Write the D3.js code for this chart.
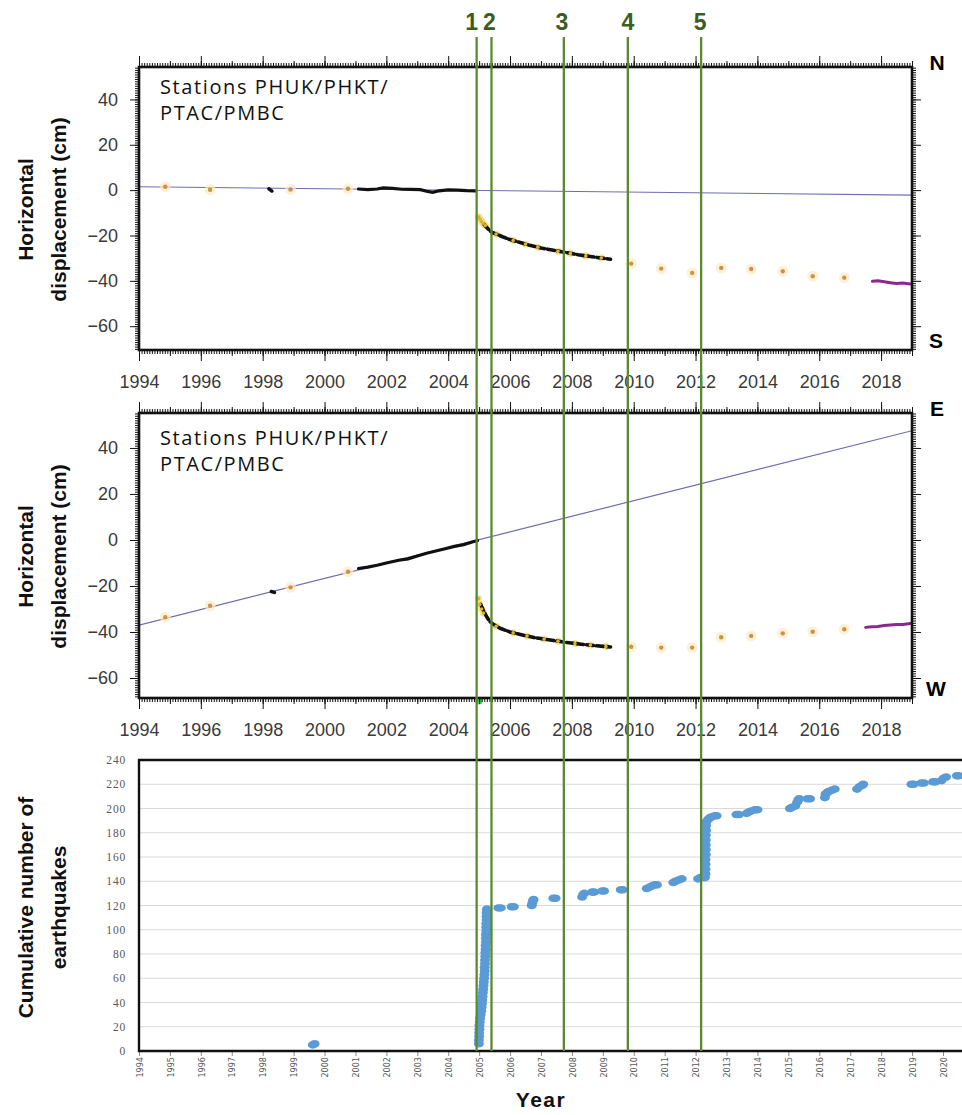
<!DOCTYPE html>
<html>
<head>
<meta charset="utf-8">
<script src="https://cdn.jsdelivr.net/npm/d3@7"></script>
<style>
  html, body { margin: 0; padding: 0; background: #fff; }
  svg { display: block; }
</style>
</head>
<body>
<svg id="chart" width="962" height="1115"></svg>
<script>
// ---------------- DATA ----------------
const stationLabel = ["Stations PHUK/PHKT/", "PTAC/PMBC"];
const topTickYears = [1994, 1996, 1998, 2000, 2002, 2004, 2006, 2008, 2010, 2012, 2014, 2016, 2018];
const dispTicks = [40, 20, 0, -20, -40, -60];
const eventYears = [2004.92, 2005.40, 2007.74, 2009.81, 2012.18];
const eventLabels = ["1", "2", "3", "4", "5"];

// North-South component (cm)
const nsTrend = [[1994, 1.5], [2019, -2.2]];
const nsBlack = [[2001.1, 0.5], [2001.4, 0.2], [2001.7, 0.5], [2001.9, 1.0], [2002.2, 0.8], [2002.5, 0.4],
  [2002.8, 0.3], [2003.1, 0.2], [2003.3, -0.5], [2003.5, -1.0], [2003.7, -0.3], [2004.0, 0.1],
  [2004.3, 0.0], [2004.6, -0.2], [2004.9, -0.3]];
const nsBlackIsolated = [[1998.2, 0.6], [1998.3, -0.4]];
const nsPost = [[2005.15, -15.0], [2005.25, -16.5], [2005.35, -18.0], [2005.45, -18.8], [2005.6, -19.6],
  [2005.8, -20.8], [2006.0, -21.8], [2006.3, -23.0], [2006.6, -24.2], [2007.0, -25.5], [2007.4, -26.5],
  [2007.8, -27.5], [2008.2, -28.5], [2008.6, -29.3], [2009.0, -30.0], [2009.25, -30.5]];
const nsYellow = [[2004.98, -11.8], [2005.03, -12.8], [2005.08, -13.8], [2005.13, -14.6], [2005.2, -15.6],
  [2005.55, -19.4], [2006.1, -22.2], [2006.5, -23.8], [2006.9, -25.2], [2007.55, -27.0], [2007.95, -27.9],
  [2008.45, -29.0], [2008.95, -29.9]];
const nsOrange = [[1994.85, 1.5], [1996.3, 0.2], [1998.9, 0.3], [2000.76, 0.6], [2009.92, -32.4],
  [2010.89, -34.6], [2011.89, -36.5], [2012.83, -34.3], [2013.8, -34.8], [2014.82, -35.8],
  [2015.79, -38.0], [2016.81, -38.6]];
const nsMagenta = [[2017.72, -40.2], [2017.9, -40.0], [2018.1, -40.4], [2018.3, -40.8], [2018.5, -41.2],
  [2018.7, -41.0], [2018.95, -41.4]];

// East-West component (cm)
const ewTrend = [[1994, -37], [2019, 47.5]];
const ewBlack = [[2001.1, -12.4], [2001.4, -11.8], [2001.7, -11.0], [2002.0, -10.0], [2002.4, -8.8],
  [2002.7, -8.2], [2003.0, -7.0], [2003.3, -5.8], [2003.6, -4.8], [2003.9, -3.8], [2004.2, -2.8],
  [2004.5, -2.0], [2004.8, -0.8], [2004.95, -0.3]];
const ewBlackIsolated = [[1998.28, -22.4], [1998.38, -22.8]];
const ewPost = [[2005.05, -28.0], [2005.15, -31.0], [2005.25, -33.5], [2005.35, -35.5], [2005.5, -37.0],
  [2005.7, -38.5], [2006.0, -40.0], [2006.4, -41.3], [2006.8, -42.5], [2007.3, -43.5], [2007.8, -44.5],
  [2008.3, -45.3], [2008.8, -46.0], [2009.25, -46.5]];
const ewYellow = [[2004.98, -25.5], [2005.02, -28.0], [2005.08, -30.0], [2005.14, -31.8], [2005.55, -37.5],
  [2006.1, -40.4], [2006.55, -41.8], [2007.1, -43.1], [2007.55, -44.0], [2008.1, -45.0], [2008.6, -45.7],
  [2009.1, -46.3]];
const ewOrange = [[1994.85, -33.6], [1996.3, -28.6], [1998.9, -20.6], [2000.76, -13.8], [2009.92, -46.4],
  [2010.89, -46.8], [2011.89, -46.8], [2012.83, -42.3], [2013.8, -41.7], [2014.82, -40.6],
  [2015.79, -39.9], [2016.81, -38.8]];
const ewMagenta = [[2017.5, -38.0], [2017.7, -37.7], [2017.9, -37.6], [2018.1, -37.2], [2018.3, -37.0],
  [2018.5, -36.8], [2018.7, -36.7], [2018.95, -36.3]];
const ewGreen = [[2004.99, -70]];

// Cumulative number of earthquakes [year, count]
const quakeYears = d3.range(1994, 2021);
const quakeTicks = [0, 20, 40, 60, 80, 100, 120, 140, 160, 180, 200, 220, 240];
const quakes = [
  [1999.62, 5], [1999.68, 6],
  [2004.99, 6], [2004.99, 9], [2005.00, 12], [2005.00, 15], [2005.01, 18], [2005.01, 21], [2005.02, 24],
  [2005.03, 27], [2005.05, 30], [2005.07, 33], [2005.08, 36], [2005.09, 39], [2005.10, 42], [2005.11, 45],
  [2005.12, 48], [2005.13, 51], [2005.14, 54], [2005.15, 57], [2005.16, 60], [2005.17, 63], [2005.18, 66],
  [2005.18, 69], [2005.19, 72], [2005.19, 75], [2005.20, 78], [2005.20, 81], [2005.21, 84], [2005.21, 87],
  [2005.22, 90], [2005.22, 93], [2005.22, 96], [2005.23, 99], [2005.23, 102], [2005.23, 105],
  [2005.24, 108], [2005.24, 111], [2005.24, 114], [2005.25, 117],
  [2005.62, 118], [2005.70, 118], [2006.05, 119], [2006.12, 119], [2006.70, 120], [2006.72, 122],
  [2006.74, 124], [2006.76, 125], [2007.40, 126], [2007.47, 126], [2008.33, 127], [2008.36, 129],
  [2008.40, 130], [2008.65, 131], [2008.72, 131], [2008.98, 132], [2009.04, 132], [2009.58, 133],
  [2009.64, 133], [2010.42, 134], [2010.50, 135], [2010.58, 136], [2010.68, 137], [2010.75, 137],
  [2011.28, 139], [2011.35, 140], [2011.45, 141], [2011.55, 142], [2012.08, 142], [2012.15, 143],
  [2012.22, 143], [2012.30, 143], [2012.32, 146], [2012.32, 150], [2012.32, 154], [2012.32, 158],
  [2012.33, 162], [2012.33, 166], [2012.33, 170], [2012.33, 174], [2012.33, 178], [2012.34, 182],
  [2012.34, 186], [2012.35, 189], [2012.40, 191], [2012.45, 192], [2012.50, 193], [2012.62, 194],
  [2012.68, 194], [2013.32, 195], [2013.40, 195], [2013.65, 196], [2013.72, 197], [2013.80, 198],
  [2013.92, 199], [2014.00, 199], [2015.05, 200], [2015.12, 201], [2015.22, 202], [2015.28, 205],
  [2015.32, 207], [2015.35, 208], [2015.62, 208], [2015.70, 208], [2016.18, 209], [2016.20, 212],
  [2016.25, 213], [2016.30, 214], [2016.40, 215], [2016.50, 216], [2017.22, 216], [2017.30, 218],
  [2017.38, 219], [2017.42, 220], [2018.98, 220], [2019.05, 220], [2019.30, 221], [2019.38, 221],
  [2019.68, 222], [2019.76, 222], [2019.95, 223], [2020.02, 225], [2020.10, 226], [2020.45, 227],
  [2020.52, 227]
];

// ---------------- DRAW ----------------
const svg = d3.select("#chart");
svg.append("rect").attr("width", 962).attr("height", 1115).attr("fill", "#fff");

const L = 139, R = 912;
const x = d3.scaleLinear().domain([1994, 2019]).range([L, R]);
const monthly = d3.range(1994, 2019.001, 1 / 12);
const yearly = d3.range(1994, 2020, 1);
const AXIS_FONT = "'Liberation Sans', Arial, Helvetica, sans-serif";

function panel(opts) {
  const { top, bottom, domain, id, trend, black, blackIso, post, yellow, orange, magenta, green, nLabel, sLabel, textY } = opts;
  const y = d3.scaleLinear().domain(domain).range([bottom, top]);
  const g = svg.append("g");

  svg.append("clipPath").attr("id", id).append("rect")
    .attr("x", L).attr("y", top).attr("width", R - L).attr("height", bottom - top);
  const data = g.append("g").attr("clip-path", `url(#${id})`);
  const line = d3.line().x(d => x(d[0])).y(d => y(d[1]));

  data.append("path").datum(trend).attr("d", line)
    .attr("fill", "none").attr("stroke", "#6d6db0").attr("stroke-width", 1.2);

  data.selectAll(null).data(orange).join("circle")
    .attr("cx", d => x(d[0])).attr("cy", d => y(d[1])).attr("r", 5.5)
    .attr("fill", "#fde9c4").attr("opacity", 0.7);
  data.selectAll(null).data(orange).join("circle")
    .attr("cx", d => x(d[0])).attr("cy", d => y(d[1])).attr("r", 2.2)
    .attr("fill", "#c9944a");

  data.append("path").datum(black).attr("d", line)
    .attr("fill", "none").attr("stroke", "#111").attr("stroke-width", 3.2).attr("stroke-linecap", "round");
  data.append("path").datum(blackIso).attr("d", line)
    .attr("fill", "none").attr("stroke", "#111").attr("stroke-width", 3.5).attr("stroke-linecap", "round");

  data.selectAll(null).data(yellow).join("circle")
    .attr("cx", d => x(d[0])).attr("cy", d => y(d[1])).attr("r", 3.6)
    .attr("fill", "#f2e27a").attr("opacity", 0.85);
  data.append("path").datum(post).attr("d", line)
    .attr("fill", "none").attr("stroke", "#111").attr("stroke-width", 3.6)
    .attr("stroke-dasharray", "7,3").attr("stroke-linecap", "round");
  data.selectAll(null).data(yellow).join("circle")
    .attr("cx", d => x(d[0])).attr("cy", d => y(d[1])).attr("r", 1.8)
    .attr("fill", "#d9b43a");

  data.append("path").datum(magenta).attr("d", line)
    .attr("fill", "none").attr("stroke", "#8a2890").attr("stroke-width", 3).attr("stroke-linecap", "round");

  if (green) {
    g.selectAll(null).data(green).join("circle")
      .attr("cx", d => x(d[0])).attr("cy", d => y(d[1])).attr("r", 3.5).attr("fill", "#33dd44");
  }

  const tickStyle = sel => {
    sel.select(".domain").remove();
    sel.selectAll("line").attr("stroke", "#111").attr("stroke-width", 1);
  };
  const yMinor = d3.range(Math.ceil(domain[0]), Math.floor(domain[1]) + 1, 1);
  const yMajor = dispTicks;

  g.append("g").attr("transform", `translate(0,${top})`)
    .call(d3.axisTop(x).tickValues(monthly).tickSize(4).tickFormat("")).call(tickStyle);
  g.append("g").attr("transform", `translate(0,${top})`)
    .call(d3.axisTop(x).tickValues(yearly).tickSize(6).tickFormat("")).call(tickStyle);
  g.append("g").attr("transform", `translate(0,${top})`)
    .call(d3.axisTop(x).tickValues(topTickYears).tickSize(11).tickFormat("")).call(tickStyle);

  g.append("g").attr("transform", `translate(0,${bottom})`)
    .call(d3.axisBottom(x).tickValues(monthly).tickSize(4).tickFormat("")).call(tickStyle);
  g.append("g").attr("transform", `translate(0,${bottom})`)
    .call(d3.axisBottom(x).tickValues(yearly).tickSize(6).tickFormat("")).call(tickStyle);
  const xb = g.append("g").attr("transform", `translate(0,${bottom})`)
    .call(d3.axisBottom(x).tickValues(topTickYears).tickSize(11).tickPadding(14).tickFormat(d3.format("d")));
  tickStyle(xb);
  xb.selectAll("text").attr("font-family", AXIS_FONT).attr("font-size", 18).attr("fill", "#3a3a3a");

  g.append("g").attr("transform", `translate(${L},0)`)
    .call(d3.axisLeft(y).tickValues(yMinor).tickSize(4).tickFormat("")).call(tickStyle);
  const yl = g.append("g").attr("transform", `translate(${L},0)`)
    .call(d3.axisLeft(y).tickValues(yMajor).tickSize(9).tickPadding(12).tickFormat(d => d < 0 ? "\u2212" + Math.abs(d) : d));
  tickStyle(yl);
  yl.selectAll("text").attr("font-family", AXIS_FONT).attr("font-size", 18).attr("fill", "#3a3a3a");

  g.append("g").attr("transform", `translate(${R},0)`)
    .call(d3.axisRight(y).tickValues(yMinor).tickSize(4).tickFormat("")).call(tickStyle);
  g.append("g").attr("transform", `translate(${R},0)`)
    .call(d3.axisRight(y).tickValues(yMajor).tickSize(9).tickFormat("")).call(tickStyle);

  g.append("rect").attr("x", L).attr("y", top).attr("width", R - L).attr("height", bottom - top)
    .attr("fill", "none").attr("stroke", "#111").attr("stroke-width", 2.6);

  g.append("text").attr("x", 160).attr("y", textY)
    .attr("font-family", "'Open Sans', sans-serif").attr("font-size", 20).attr("letter-spacing", 1.6)
    .attr("fill", "#111")
    .selectAll("tspan").data(stationLabel).join("tspan")
    .attr("x", 160).attr("dy", (d, i) => i === 0 ? 0 : 25.5).text(d => d);

  g.append("text").attr("x", 937).attr("y", top + 3).attr("text-anchor", "middle")
    .attr("font-family", AXIS_FONT).attr("font-weight", "bold").attr("font-size", 21).text(nLabel);
  g.append("text").attr("x", 936).attr("y", bottom - 2).attr("text-anchor", "middle")
    .attr("font-family", AXIS_FONT).attr("font-weight", "bold").attr("font-size", 21).text(sLabel);

  const cy = (top + bottom) / 2;
  const t = g.append("text").attr("transform", `translate(0,${cy + 1}) rotate(-90)`)
    .attr("text-anchor", "middle").attr("font-family", AXIS_FONT).attr("font-weight", "bold")
    .attr("font-size", 21).attr("fill", "#111");
  t.append("tspan").attr("x", 0).attr("y", 33).text("Horizontal");
  t.append("tspan").attr("x", 0).attr("y", 66).text("displacement (cm)");
}

panel({ top: 67, bottom: 350, domain: [-70.5, 54.3], id: "clipNS", trend: nsTrend, black: nsBlack,
  blackIso: nsBlackIsolated, post: nsPost, yellow: nsYellow, orange: nsOrange, magenta: nsMagenta,
  nLabel: "N", sLabel: "S", textY: 94 });
panel({ top: 413, bottom: 698, domain: [-68.7, 55.2], id: "clipEW", trend: ewTrend, black: ewBlack,
  blackIso: ewBlackIsolated, post: ewPost, yellow: ewYellow, orange: ewOrange, magenta: ewMagenta,
  green: ewGreen, nLabel: "E", sLabel: "W", textY: 445 });

// ---------------- Bottom panel ----------------
const bTop = 760, bBot = 1051;
const xq = d3.scaleLinear().domain([1994, 2020]).range([L, 943]);
const yq = d3.scaleLinear().domain([0, 240]).range([bBot, bTop]);
const gb = svg.append("g");

gb.selectAll(null).data(quakeTicks.filter(d => d > 0 && d < 240)).join("line")
  .attr("x1", L).attr("x2", 962).attr("y1", d => yq(d)).attr("y2", d => yq(d))
  .attr("stroke", "#d9d9d9").attr("stroke-width", 1);

const yAxB = gb.append("g").attr("transform", `translate(${L},0)`)
  .call(d3.axisLeft(yq).tickValues(quakeTicks).tickSize(0).tickPadding(13));
yAxB.select(".domain").remove();
yAxB.selectAll("text").attr("font-family", "'Liberation Serif', 'DejaVu Serif', serif")
  .attr("font-size", 11.5).attr("letter-spacing", 0.8).attr("fill", "#595959");

const xAxB = gb.append("g").attr("transform", `translate(0,${bBot})`)
  .call(d3.axisBottom(xq).tickValues(quakeYears).tickSize(5).tickFormat(d3.format("d")));
xAxB.select(".domain").remove();
xAxB.selectAll("line").attr("stroke", "#8c8c8c");
xAxB.selectAll("text").attr("font-family", "'DejaVu Sans Condensed', 'DejaVu Sans', sans-serif")
  .attr("font-size", 9).attr("fill", "#595959")
  .attr("text-anchor", "end").attr("transform", "rotate(-90)")
  .attr("x", -6).attr("y", 0).attr("dy", "0.35em");

gb.selectAll(null).data(quakes).join("ellipse")
  .attr("cx", d => xq(d[0])).attr("cy", d => yq(d[1])).attr("rx", 5).attr("ry", 3.8)
  .attr("fill", "#5b9bd5");

gb.append("path").attr("d", `M962,${bTop}H${L}V${bBot}H962`)
  .attr("fill", "none").attr("stroke", "#111").attr("stroke-width", 2.4);

const tb = gb.append("text").attr("transform", `translate(0,${(bTop + bBot) / 2 + 2}) rotate(-90)`)
  .attr("text-anchor", "middle").attr("font-family", AXIS_FONT).attr("font-weight", "bold")
  .attr("font-size", 21).attr("fill", "#111");
tb.append("tspan").attr("x", 0).attr("y", 33).text("Cumulative number of");
tb.append("tspan").attr("x", 0).attr("y", 66).text("earthquakes");

gb.append("text").attr("x", 541).attr("y", 1107).attr("text-anchor", "middle")
  .attr("font-family", AXIS_FONT).attr("font-weight", "bold").attr("font-size", 21)
  .attr("letter-spacing", 1.5).attr("fill", "#111").text("Year");

// ---------------- Event lines ----------------
const labelShift = [-5, -2, -2, 0, -1];
const ge = svg.append("g");
ge.selectAll(null).data(eventYears).join("line")
  .attr("x1", d => x(d)).attr("x2", d => x(d)).attr("y1", 37).attr("y2", bBot)
  .attr("stroke", "#5a8a30").attr("stroke-width", 2.3);
ge.selectAll(null).data(eventYears).join("text")
  .attr("x", (d, i) => x(d) + labelShift[i]).attr("y", 30).attr("text-anchor", "middle")
  .attr("font-family", AXIS_FONT).attr("font-weight", "bold").attr("font-size", 23)
  .attr("fill", "#3b5e1f").text((d, i) => eventLabels[i]);
</script>
</body>
</html>
